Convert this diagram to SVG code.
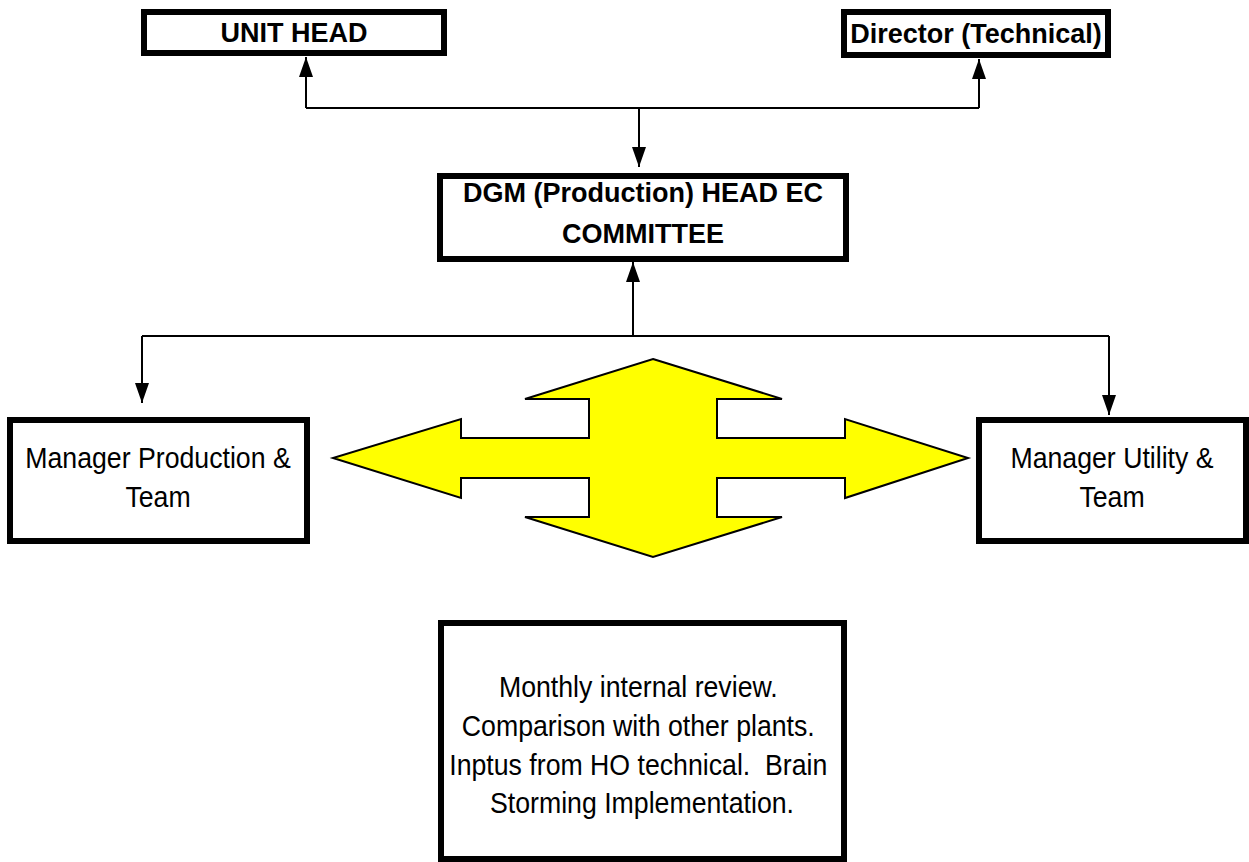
<svg xmlns="http://www.w3.org/2000/svg" width="1249" height="862" viewBox="0 0 1249 862">
  <defs>
    <style>
      .box{fill:#fff;stroke:#000;stroke-width:6}
      .wire{fill:none;stroke:#000;stroke-width:2}
      .bold{font-family:"Liberation Sans",Arial,sans-serif;font-weight:bold;font-size:27px;text-anchor:middle;fill:#000}
      .reg{font-family:"Liberation Sans",Arial,sans-serif;font-size:30px;text-anchor:middle;fill:#000}
      .cross{fill:#ffff00;stroke:#000;stroke-width:2;stroke-linejoin:miter}
    </style>
    <marker id="head" viewBox="0 0 20 14" refX="20" refY="7" markerWidth="20" markerHeight="14" markerUnits="userSpaceOnUse" orient="auto">
      <path d="M0,0 L20,7 L0,14 Z" fill="#000"/>
    </marker>
  </defs>

  <rect width="1249" height="862" fill="#fff"/>

  <!-- connectors -->
  <g id="connectors">
    <path class="wire" d="M306,108 H979"/>
    <path class="wire" d="M306,108 V57" marker-end="url(#head)"/>
    <path class="wire" d="M979,108 V59" marker-end="url(#head)"/>
    <path class="wire" d="M639,108 V167" marker-end="url(#head)"/>
    <path class="wire" d="M142,336 H1109"/>
    <path class="wire" d="M633,336 V262" marker-end="url(#head)"/>
    <path class="wire" d="M142,336 V403" marker-end="url(#head)"/>
    <path class="wire" d="M1109,336 V415" marker-end="url(#head)"/>
  </g>

  <!-- four-way exchange arrow -->
  <g id="exchange">
    <polygon class="cross" points="653,359 782,399 717,399 717,438 845,438 845,419 968,458 845,498 845,478 717,478 717,517 782,517 653,557 525,517 589,517 589,478 461,478 461,498 333,458 461,419 461,438 589,438 589,399 525,399"/>
  </g>

  <g id="unit-head">
    <rect class="box" x="144" y="12" width="300" height="41"/>
    <text class="bold" x="294" y="42">UNIT HEAD</text>
  </g>

  <g id="director-technical">
    <rect class="box" x="844" y="12" width="264" height="43"/>
    <text class="bold" x="976" y="43">Director (Technical)</text>
  </g>

  <g id="dgm-production">
    <rect class="box" x="440" y="176" width="406" height="83"/>
    <text class="bold"><tspan x="643" y="202">DGM (Production) HEAD EC</tspan><tspan x="643" y="243">COMMITTEE</tspan></text>
  </g>

  <g id="manager-production">
    <rect class="box" x="10" y="420" width="297" height="121"/>
    <text class="reg" transform="translate(158,0) scale(0.89,1)"><tspan x="0" y="468">Manager Production &amp;</tspan><tspan x="0" y="507">Team</tspan></text>
  </g>

  <g id="manager-utility">
    <rect class="box" x="979" y="420" width="267" height="121"/>
    <text class="reg" transform="translate(1112,0) scale(0.89,1)"><tspan x="0" y="468">Manager Utility &amp;</tspan><tspan x="0" y="507">Team</tspan></text>
  </g>

  <g id="review">
    <rect class="box" x="441" y="623" width="403" height="236"/>
    <text class="reg" transform="translate(642,0) scale(0.89,1)">
      <tspan x="0" y="697">Monthly internal review.</tspan>
      <tspan x="0" y="736">Comparison with other plants.</tspan>
      <tspan x="0" y="775">Inptus from HO technical.&#160; Brain</tspan>
      <tspan x="0" y="813">Storming Implementation.</tspan>
    </text>
  </g>
</svg>
